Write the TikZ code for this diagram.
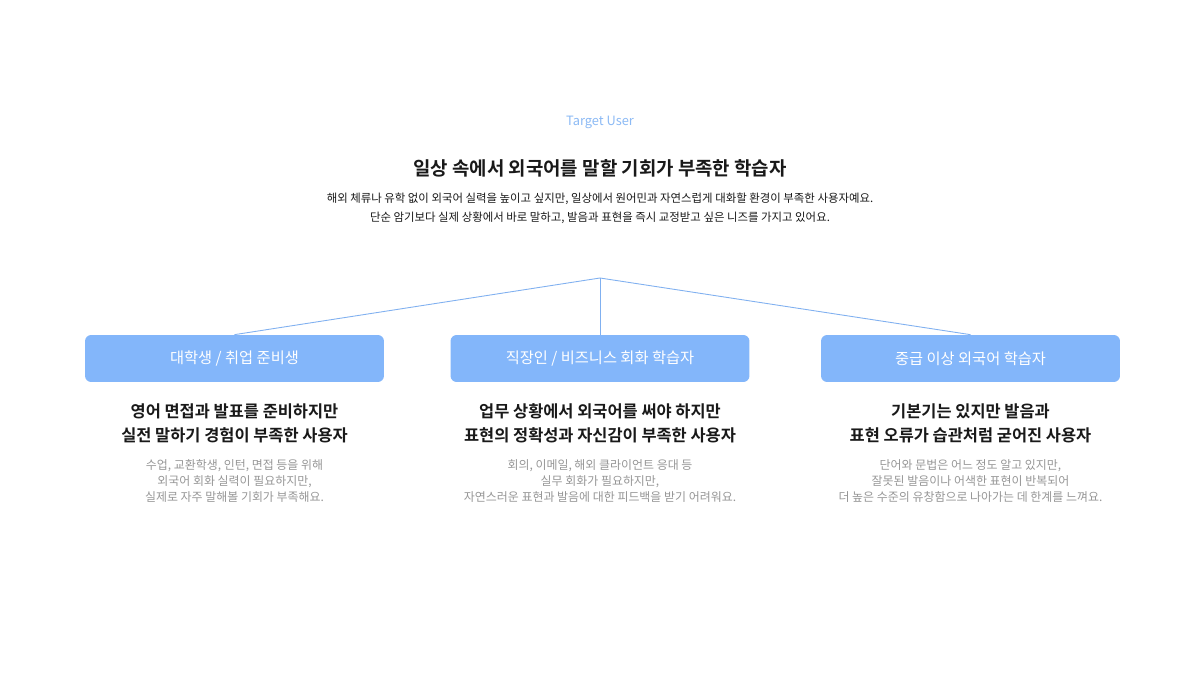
\documentclass[tikz,border=0pt]{standalone}
\usepackage{fontspec}
\usetikzlibrary{positioning}
\newfontfamily\kr{Noto Sans CJK KR}[BoldFont={Noto Sans CJK KR Bold}]
\definecolor{custom-blue}{RGB}{131, 182, 250}
\definecolor{custom-line}{RGB}{128, 176, 240}
\definecolor{custom-tag}{RGB}{140, 186, 245}
\definecolor{custom-gray}{RGB}{150, 150, 150}
\definecolor{custom-ink}{RGB}{25, 25, 25}

\begin{document}
\begin{tikzpicture}[x=0.02cm, y=-0.02cm,
    every node/.style={font=\kr, inner sep=0pt, align=center},
    tag/.style={text=custom-tag, font=\kr\fontsize{7.3}{8}\selectfont},
    headline/.style={text=custom-ink, font=\kr\bfseries\fontsize{10.75}{13}\selectfont},
    intro/.style={text=custom-ink, font=\kr\fontsize{6.5}{10.8}\selectfont},
    userbox/.style={fill=custom-blue, rounded corners=3.5pt, minimum width=5.98cm, minimum height=0.94cm, text=white, font=\kr\fontsize{8.7}{10}\selectfont},
    persona/.style={text=custom-ink, font=\kr\bfseries\fontsize{9.35}{13.6}\selectfont},
    detail/.style={text=custom-gray, font=\kr\fontsize{6.8}{9.1}\selectfont},
    link/.style={draw=custom-line, line width=0.5pt}]
\fill[white] (0,0) rectangle (1200,675);

\node[tag] (tag) at (600,122) {Target User};
\node[headline] (title) at (600,168) {일상 속에서 외국어를 말할 기회가 부족한 학습자};
\node[intro] (intro) at (600,208.5) {해외 체류나 유학 없이 외국어 실력을 높이고 싶지만, 일상에서 원어민과 자연스럽게 대화할 환경이 부족한 사용자예요.\\
단순 암기보다 실제 상황에서 바로 말하고, 발음과 표현을 즉시 교정받고 싶은 니즈를 가지고 있어요.};

% three user groups
\node[userbox] (student) at (234.5,358.5) {대학생 / 취업 준비생};
\node[userbox] (worker) at (600,358.5) {직장인 / 비즈니스 회화 학습자};
\node[userbox] (advanced) at (970.5,358.5) {중급 이상 외국어 학습자};

\coordinate (apex) at (600,278);
\draw[link] (apex) -- (student.north);
\draw[link] (apex) -- (worker.north);
\draw[link] (apex) -- (advanced.north);

\node[persona] (student-need) at (234.5,423) {영어 면접과 발표를 준비하지만\\ 실전 말하기 경험이 부족한 사용자};
\node[persona] (worker-need) at (600,423) {업무 상황에서 외국어를 써야 하지만\\ 표현의 정확성과 자신감이 부족한 사용자};
\node[persona] (advanced-need) at (970.5,423) {기본기는 있지만 발음과\\ 표현 오류가 습관처럼 굳어진 사용자};

\node[detail] (student-info) at (234.5,481) {수업, 교환학생, 인턴, 면접 등을 위해\\ 외국어 회화 실력이 필요하지만,\\ 실제로 자주 말해볼 기회가 부족해요.};
\node[detail] (worker-info) at (600,481) {회의, 이메일, 해외 클라이언트 응대 등\\ 실무 회화가 필요하지만,\\ 자연스러운 표현과 발음에 대한 피드백을 받기 어려워요.};
\node[detail] (advanced-info) at (970.5,481) {단어와 문법은 어느 정도 알고 있지만,\\ 잘못된 발음이나 어색한 표현이 반복되어\\ 더 높은 수준의 유창함으로 나아가는 데 한계를 느껴요.};
\end{tikzpicture}
\end{document}
